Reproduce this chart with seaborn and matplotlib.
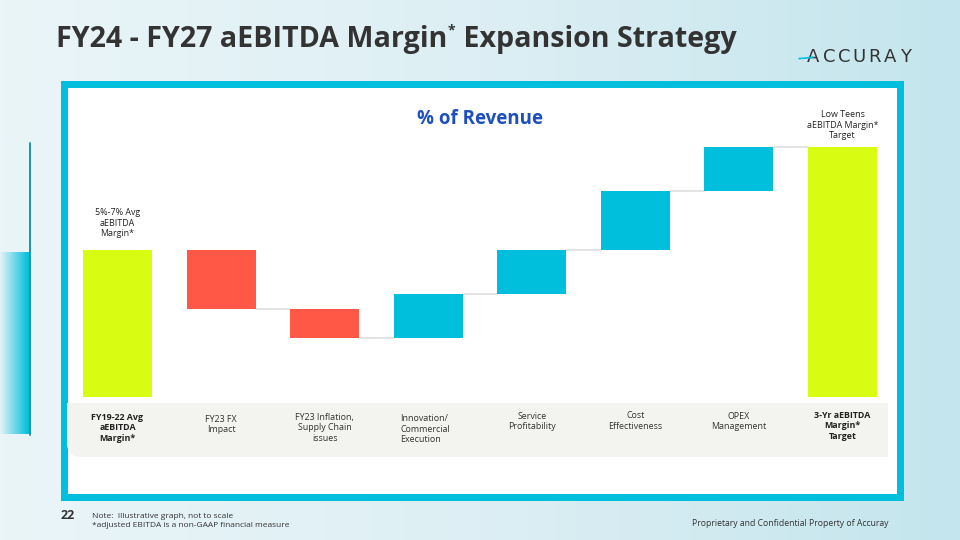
import matplotlib
matplotlib.use("Agg")
import matplotlib.pyplot as plt
from matplotlib.patches import Rectangle, FancyBboxPatch
from matplotlib.colors import LinearSegmentedColormap
import seaborn as sns
import numpy as np

# waterfall data (illustrative, % of revenue)
steps = ["FY19-22 Avg\naEBITDA\nMargin*", "FY23 FX\nImpact", "FY23 Inflation,\nSupply Chain\nissues",
         "Innovation/\nCommercial\nExecution", "Service\nProfitability", "Cost\nEffectiveness",
         "OPEX\nManagement", "3-Yr aEBITDA\nMargin*\nTarget"]
changes = [6.0, -2.4, -1.2, 1.8, 1.8, 2.4, 1.8, 10.2]
kinds = ["total", "neg", "neg", "pos", "pos", "pos", "pos", "total"]
top_notes = {0: "5%-7% Avg\naEBITDA\nMargin*", 7: "Low Teens\naEBITDA Margin*\nTarget"}

kind_colors = {"total": "#D8FC12", "neg": "#FF5846", "pos": "#00BFDD"}

# running bottoms / heights
bottoms, heights, ends = [], [], []
running = 0.0
for v, k in zip(changes, kinds):
    if k == "total":
        bottoms.append(0.0)
        heights.append(v)
        running = v
    elif v < 0:
        bottoms.append(running + v)
        heights.append(-v)
        running = running + v
    else:
        bottoms.append(running)
        heights.append(v)
        running = running + v
    ends.append(running)

sns.set_theme(style="white")
plt.rcParams['font.family'] = ['Open Sans', 'DejaVu Sans']

fig = plt.figure(figsize=(9.6, 5.4), dpi=100)

# background in pixel coords
bg = fig.add_axes([0, 0, 1, 1])
bg.set_xlim(0, 960)
bg.set_ylim(540, 0)
bg.axis("off")
grad = LinearSegmentedColormap.from_list("bgc", ["#EAF5F8", "#DDEFF4", "#C4E5ED"])
bg.imshow(np.linspace(0, 1, 256).reshape(1, -1), cmap=grad, aspect="auto",
          extent=(0, 960, 540, 0), zorder=0)
side = LinearSegmentedColormap.from_list("side", ["#E4F3F8", "#00BFDD"])
bg.imshow(np.linspace(0, 1, 64).reshape(1, -1), cmap=side, aspect="auto",
          extent=(0, 29, 434, 252), zorder=1)
bg.plot([30, 30], [143, 435], color="#0C8CA6", lw=1.3, zorder=2)

# frame + white panel
bg.add_patch(Rectangle((63.5, 83.5), 836, 413, facecolor="white", edgecolor="#00BFDD",
                       linewidth=7 * 0.72, zorder=2))

# label strip with rounded bottom-left corner
strip = "#F3F3EF"
bg.add_patch(FancyBboxPatch((67, 403), 821, 54, boxstyle="round,pad=0,rounding_size=14",
                            facecolor=strip, edgecolor="none", zorder=3))
bg.add_patch(Rectangle((67, 403), 821, 25, facecolor=strip, edgecolor="none", zorder=3))
bg.add_patch(Rectangle((860, 403), 28, 54, facecolor=strip, edgecolor="none", zorder=3))

# title with superscript asterisk
title_kw = dict(fontsize=20.6, fontweight="bold", color="#333333", va="baseline", zorder=5)
t1 = bg.text(56, 46.5, "FY24 - FY27 aEBITDA Margin", **title_kw)
fig.canvas.draw()
x1 = t1.get_window_extent().x1
star = bg.text(x1 + 0.5, 34, "*", fontsize=10, fontweight="bold", color="#333333", va="baseline", zorder=5)
fig.canvas.draw()
x2 = star.get_window_extent().x1
bg.text(x2 + 1, 46.5, " Expansion Strategy", **title_kw)

# logo
for i, ch in enumerate("ACCURAY"):
    bg.text(813.5 + 15.3 * i, 62, ch, fontsize=13, color="#333333", ha="center", va="baseline",
            family="DejaVu Sans", zorder=5)
bg.plot([799, 806, 813], [58.6, 58, 57.2], color="#00BFDD", lw=1.2, solid_capstyle="round", zorder=6)

# footer
bg.text(60.5, 515.5, "22", fontsize=9, fontweight="bold", color="#333333", va="center")
bg.text(92, 516.8, "Note:  Illustrative graph, not to scale", fontsize=6.0, color="#333333", va="center")
bg.text(92, 525.8, "*adjusted EBITDA is a non-GAAP financial measure", fontsize=6.0, color="#333333", va="center")
bg.text(889, 523, "Proprietary and Confidential Property of Accuray", fontsize=6.2, color="#333333",
        ha="right", va="center")

# chart axes
px = 24.5  # pixels per unit
ax = fig.add_axes([65.7 / 960, (540 - 493) / 540, 828.6 / 960, (493 - 87) / 540])
ax.patch.set_alpha(0)
sns.barplot(x=steps, y=heights, bottom=bottoms, order=steps, width=0.667, errorbar=None,
            color=kind_colors["pos"], saturation=1, linewidth=0, ax=ax, zorder=3)
for p, k in zip(ax.patches, kinds):
    p.set_facecolor(kind_colors[k])
    p.set_edgecolor("none")

ax.set_xlim(-0.5, 7.5)
ax.set_ylim((397 - 493) / px, (397 - 87) / px)
ax.set_xticks([])
ax.set_yticks([])
ax.set_xlabel("")
ax.set_ylabel("")
sns.despine(ax=ax, left=True, bottom=True)

# connectors
hw = 0.667 / 2
for i in range(1, len(steps) - 1):
    ax.plot([i + hw, i + 1 - hw], [ends[i], ends[i]], color="#E2E2E2", lw=1.3, zorder=2)

ax.text(3.5, (397 - 119) / px, "% of Revenue", fontsize=13.5, fontweight="bold",
        color="#1E4FBE", ha="center", va="center")

for i, note in top_notes.items():
    ax.text(i, (397 - 223) / px if i == 0 else (397 - 125) / px, note, fontsize=6.4,
            color="#222222", ha="center", va="center", linespacing=1.25)

label_y = [428, 424.5, 428, 429, 421.5, 421, 421.5, 426]
for i, lab in enumerate(steps):
    bold = kinds[i] == "total"
    if i == 3:
        ax.text(i - 0.27, (397 - label_y[i]) / px, lab, fontsize=6.4, color="#333333",
                ha="left", va="center", linespacing=1.25, zorder=5)
    else:
        ax.text(i, (397 - label_y[i]) / px, lab, fontsize=6.4, color="#222222" if bold else "#333333",
                fontweight="bold" if bold else "normal", ha="center", va="center",
                linespacing=1.25, zorder=5)

fig.savefig("out.png", dpi=100)
